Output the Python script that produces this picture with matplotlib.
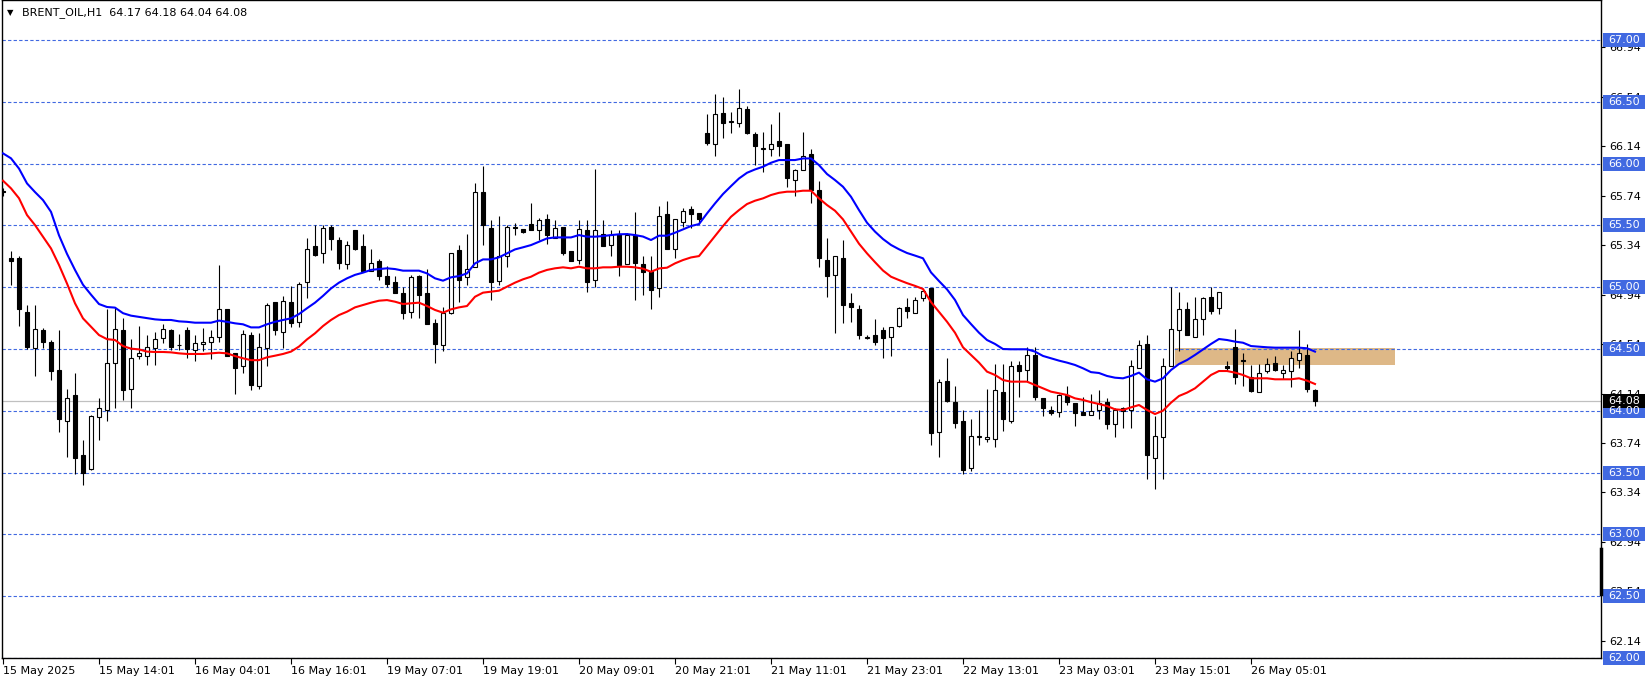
import matplotlib
matplotlib.use("Agg")
import matplotlib.pyplot as plt
import matplotlib.transforms as mtransforms
from matplotlib.patches import Rectangle

# H1 candles, BRENT_OIL
opens = [65.78, 65.24, 65.24, 64.80, 64.51, 64.65, 64.56, 64.33, 63.92, 64.13,
         63.64, 63.53, 63.95, 64.01, 64.39, 64.65, 64.18, 64.44, 64.44, 64.51,
         64.59, 64.65, 64.53, 64.65, 64.49, 64.54, 64.56, 64.60, 64.82, 64.47,
         64.36, 64.61, 64.20, 64.51, 64.88, 64.64, 64.88, 64.72, 65.04, 65.33,
         65.28, 65.49, 65.38, 65.19, 65.46, 65.33, 65.13, 65.21, 65.09, 65.04,
         64.95, 64.80, 65.09, 64.95, 64.71, 64.53, 64.79, 65.30, 65.08, 65.16,
         65.77, 65.48, 65.05, 65.25, 65.49, 65.47, 65.51, 65.46, 65.55, 65.40,
         65.49, 65.29, 65.22, 65.46, 65.06, 65.43, 65.34, 65.43, 65.19, 65.42,
         65.19, 65.13, 64.99, 65.59, 65.31, 65.53, 65.63, 65.60, 66.25, 66.16,
         66.41, 66.34, 66.33, 66.44, 66.24, 66.12, 66.12, 66.18, 66.16, 65.87,
         65.95, 66.08, 65.79, 65.22, 65.10, 65.24, 64.87, 64.82, 64.59, 64.61,
         64.65, 64.60, 64.69, 64.84, 64.79, 64.91, 64.99, 63.83, 64.24, 64.07,
         63.92, 63.54, 63.79, 63.77, 63.77, 64.15, 63.92, 64.37, 64.33, 64.45,
         64.10, 64.01, 63.99, 64.13, 64.06, 63.99, 63.97, 64.01, 64.07, 63.89,
         64.02, 64.01, 64.35, 64.54, 63.62, 63.79, 64.36, 64.65, 64.82, 64.60,
         64.74, 64.92, 64.83, 64.36, 64.52, 64.41, 64.27, 64.15, 64.32, 64.39,
         64.31, 64.32, 64.41, 64.45, 64.17]
highs = [65.80, 65.29, 65.25, 64.86, 64.86, 64.67, 64.57, 64.65, 64.18, 64.31,
         63.76, 63.97, 64.10, 64.82, 64.84, 64.75, 64.58, 64.69, 64.61, 64.64,
         64.70, 64.66, 64.62, 64.68, 64.61, 64.67, 64.65, 65.18, 64.82, 64.47,
         64.65, 64.64, 64.63, 64.87, 64.88, 64.93, 65.01, 65.04, 65.40, 65.50,
         65.50, 65.50, 65.41, 65.37, 65.46, 65.43, 65.31, 65.23, 65.17, 65.09,
         65.00, 65.10, 65.10, 65.15, 64.74, 64.84, 65.28, 65.34, 65.43, 65.84,
         65.98, 65.54, 65.58, 65.50, 65.52, 65.47, 65.68, 65.56, 65.59, 65.54,
         65.49, 65.29, 65.54, 65.54, 65.96, 65.54, 65.46, 65.46, 65.44, 65.61,
         65.25, 65.25, 65.66, 65.70, 65.55, 65.64, 65.66, 65.60, 66.40, 66.56,
         66.54, 66.42, 66.60, 66.47, 66.26, 66.26, 66.32, 66.42, 66.16, 65.96,
         66.26, 66.12, 65.86, 65.40, 65.25, 65.38, 64.95, 64.86, 64.61, 64.74,
         64.68, 64.68, 64.84, 64.91, 64.92, 64.98, 64.99, 64.26, 64.43, 64.20,
         64.01, 63.93, 64.01, 64.18, 64.38, 64.38, 64.40, 64.40, 64.52, 64.52,
         64.10, 64.04, 64.14, 64.20, 64.06, 64.11, 64.14, 64.17, 64.10, 64.02,
         64.03, 64.41, 64.57, 64.61, 63.96, 64.43, 65.00, 64.96, 64.88, 64.92,
         64.92, 65.00, 64.96, 64.40, 64.66, 64.47, 64.37, 64.38, 64.43, 64.44,
         64.37, 64.48, 64.65, 64.54, 64.18]
lows = [65.74, 65.02, 64.69, 64.50, 64.28, 64.51, 64.25, 63.83, 63.63, 63.49,
        63.40, 63.52, 63.76, 63.92, 64.02, 64.09, 64.02, 64.42, 64.37, 64.37,
        64.55, 64.49, 64.49, 64.43, 64.40, 64.48, 64.42, 64.56, 64.44, 64.14,
        64.31, 64.17, 64.18, 64.36, 64.61, 64.51, 64.68, 64.68, 64.91, 65.25,
        65.20, 65.30, 65.15, 65.15, 65.30, 65.13, 65.13, 65.06, 65.00, 64.95,
        64.74, 64.75, 64.75, 64.70, 64.39, 64.48, 64.78, 64.88, 65.02, 65.16,
        65.34, 64.90, 65.02, 65.16, 65.42, 65.44, 65.46, 65.38, 65.35, 65.40,
        65.26, 65.21, 65.19, 64.96, 65.00, 65.33, 65.25, 65.09, 65.19, 64.90,
        64.94, 64.82, 64.92, 65.31, 65.24, 65.49, 65.48, 65.51, 66.15, 66.06,
        66.21, 66.25, 66.30, 66.24, 65.99, 65.93, 66.06, 66.06, 65.81, 65.74,
        65.95, 65.68, 65.16, 64.92, 64.63, 64.71, 64.72, 64.58, 64.58, 64.53,
        64.43, 64.44, 64.68, 64.75, 64.79, 64.89, 63.72, 63.63, 64.07, 63.86,
        63.49, 63.51, 63.72, 63.75, 63.71, 63.84, 63.90, 64.11, 64.24, 64.09,
        63.96, 63.97, 63.95, 64.05, 63.88, 63.97, 63.97, 63.93, 63.85, 63.79,
        63.86, 63.86, 64.35, 63.45, 63.37, 63.45, 64.36, 64.48, 64.61, 64.60,
        64.61, 64.78, 64.78, 64.32, 64.22, 64.20, 64.15, 64.15, 64.31, 64.32,
        64.26, 64.19, 64.35, 64.15, 64.04]
closes = [65.77, 65.21, 64.82, 64.52, 64.66, 64.56, 64.32, 63.93, 64.10, 63.62,
          63.50, 63.96, 64.02, 64.39, 64.66, 64.17, 64.43, 64.47, 64.52, 64.58,
          64.66, 64.52, 64.53, 64.50, 64.55, 64.56, 64.60, 64.82, 64.44, 64.35,
          64.62, 64.21, 64.52, 64.86, 64.65, 64.89, 64.71, 65.03, 65.31, 65.26,
          65.48, 65.39, 65.20, 65.34, 65.31, 65.13, 65.20, 65.09, 65.03, 64.95,
          64.79, 65.08, 64.94, 64.70, 64.54, 64.79, 65.28, 65.06, 65.15, 65.77,
          65.50, 65.04, 65.25, 65.49, 65.48, 65.45, 65.46, 65.54, 65.42, 65.48,
          65.28, 65.21, 65.47, 65.04, 65.46, 65.33, 65.42, 65.18, 65.42, 65.20,
          65.12, 64.98, 65.58, 65.31, 65.55, 65.62, 65.59, 65.55, 66.17, 66.40,
          66.33, 66.34, 66.45, 66.25, 66.14, 66.12, 66.16, 66.14, 65.88, 65.95,
          66.06, 65.79, 65.24, 65.09, 65.25, 64.86, 64.84, 64.61, 64.59, 64.56,
          64.59, 64.68, 64.83, 64.81, 64.90, 64.97, 63.82, 64.23, 64.08, 63.90,
          63.52, 63.80, 63.79, 63.79, 64.17, 63.93, 64.36, 64.32, 64.45, 64.11,
          64.02, 63.98, 64.13, 64.07, 63.98, 63.97, 64.00, 64.06, 63.89, 64.01,
          64.00, 64.36, 64.53, 63.64, 63.80, 64.36, 64.66, 64.82, 64.61, 64.74,
          64.91, 64.81, 64.96, 64.35, 64.27, 64.40, 64.16, 64.31, 64.38, 64.33,
          64.33, 64.43, 64.47, 64.18, 64.08]

# moving averages
ma_blue = [66.083, 66.043, 65.960, 65.840, 65.770, 65.705, 65.610, 65.420, 65.270, 65.140,
           65.020, 64.940, 64.864, 64.840, 64.835, 64.790, 64.770, 64.760, 64.750, 64.740,
           64.735, 64.735, 64.724, 64.720, 64.713, 64.713, 64.713, 64.730, 64.720, 64.708,
           64.700, 64.675, 64.675, 64.700, 64.720, 64.735, 64.748, 64.783, 64.830, 64.875,
           64.930, 64.990, 65.037, 65.072, 65.100, 65.118, 65.140, 65.147, 65.153, 65.147,
           65.134, 65.134, 65.134, 65.112, 65.072, 65.053, 65.080, 65.090, 65.112, 65.193,
           65.225, 65.225, 65.242, 65.274, 65.306, 65.323, 65.341, 65.368, 65.395, 65.403,
           65.403, 65.403, 65.422, 65.409, 65.409, 65.414, 65.422, 65.428, 65.430, 65.422,
           65.410, 65.382, 65.417, 65.417, 65.441, 65.468, 65.495, 65.511, 65.597, 65.678,
           65.754, 65.818, 65.880, 65.926, 65.953, 65.975, 66.007, 66.029, 66.029, 66.029,
           66.042, 66.042, 65.988, 65.916, 65.867, 65.813, 65.732, 65.624, 65.522, 65.450,
           65.390, 65.342, 65.307, 65.277, 65.256, 65.234, 65.120, 65.050, 64.983, 64.897,
           64.775, 64.702, 64.632, 64.573, 64.541, 64.500, 64.498, 64.498, 64.498, 64.479,
           64.444, 64.425, 64.406, 64.390, 64.371, 64.344, 64.313, 64.306, 64.282, 64.268,
           64.263, 64.282, 64.309, 64.255, 64.236, 64.263, 64.330, 64.379, 64.411, 64.452,
           64.497, 64.541, 64.581, 64.573, 64.560, 64.551, 64.524, 64.519, 64.514, 64.511,
           64.511, 64.511, 64.511, 64.506, 64.479]
ma_red = [65.862, 65.800, 65.720, 65.584, 65.503, 65.409, 65.314, 65.180, 65.030, 64.870,
          64.748, 64.680, 64.613, 64.580, 64.573, 64.524, 64.503, 64.497, 64.479, 64.476,
          64.476, 64.473, 64.465, 64.460, 64.460, 64.460, 64.465, 64.470, 64.465, 64.443,
          64.425, 64.410, 64.410, 64.433, 64.446, 64.460, 64.479, 64.520, 64.578, 64.627,
          64.686, 64.735, 64.775, 64.802, 64.837, 64.856, 64.875, 64.891, 64.896, 64.883,
          64.864, 64.870, 64.875, 64.848, 64.816, 64.794, 64.821, 64.837, 64.848, 64.923,
          64.956, 64.964, 64.972, 65.004, 65.037, 65.064, 65.085, 65.118, 65.140, 65.153,
          65.161, 65.153, 65.166, 65.153, 65.153, 65.161, 65.161, 65.166, 65.166, 65.161,
          65.150, 65.125, 65.152, 65.158, 65.193, 65.220, 65.241, 65.252, 65.333, 65.414,
          65.495, 65.570, 65.624, 65.673, 65.700, 65.719, 65.746, 65.764, 65.773, 65.773,
          65.781, 65.781, 65.719, 65.665, 65.619, 65.549, 65.450, 65.352, 65.274, 65.203,
          65.135, 65.085, 65.058, 65.033, 65.011, 64.986, 64.880, 64.800, 64.721, 64.632,
          64.514, 64.452, 64.390, 64.317, 64.290, 64.249, 64.236, 64.236, 64.236, 64.209,
          64.182, 64.155, 64.142, 64.128, 64.101, 64.088, 64.070, 64.055, 64.039, 64.012,
          64.007, 64.028, 64.047, 64.007, 63.974, 64.001, 64.066, 64.120, 64.147, 64.182,
          64.236, 64.290, 64.322, 64.322, 64.309, 64.290, 64.263, 64.263, 64.263, 64.255,
          64.255, 64.255, 64.263, 64.244, 64.217]

time_labels = ['15 May 2025', '15 May 14:01', '16 May 04:01', '16 May 16:01',
               '19 May 07:01', '19 May 19:01', '20 May 09:01', '20 May 21:01',
               '21 May 11:01', '21 May 23:01', '22 May 13:01', '23 May 03:01',
               '23 May 15:01', '26 May 05:01']
level_lines = [62.00, 62.50, 63.00, 63.50, 64.00, 64.50, 65.00, 65.50, 66.00, 66.50, 67.00]
price_ticks = [62.14, 62.54, 62.94, 63.34, 63.74, 64.14, 64.54, 64.94, 65.34, 65.74, 66.14, 66.54, 66.94]
last_price = 64.08
zone_low, zone_high = 64.37, 64.505
zone_start, zone_end = 146.5, 174.0
spread_low, spread_high = 62.515, 62.88

LEVEL_BLUE = '#4169E1'
FONT = 'DejaVu Sans'
plt.rcParams['font.family'] = FONT

W, H = 1651, 682
fig = plt.figure(figsize=(W / 100, H / 100), dpi=100)
fig.patch.set_facecolor('white')
ax = fig.add_axes([2 / W, 24 / H, 1599 / W, 658 / H])
ax.set_facecolor('white')

n = len(closes)
xs = list(range(n))

ax.set_xlim(-0.125, 199.75)
ax.set_ylim(62.0, 67.324)

# support/resistance zone
ax.add_patch(Rectangle((zone_start, zone_low), zone_end - zone_start, zone_high - zone_low,
                       facecolor='#DEB887', edgecolor='none', zorder=0.5))

# horizontal levels
for lv in level_lines:
    ax.axhline(lv, color=LEVEL_BLUE, lw=0.8, dashes=(3, 2), zorder=1)
ax.axhline(last_price, color='#C0C0C0', lw=0.9, zorder=1)

# candles
ax.vlines(xs, lows, highs, color='black', lw=0.8, zorder=2)
for i in xs:
    o, c = opens[i], closes[i]
    bottom = min(o, c)
    height = max(abs(c - o), 0.004)
    face = 'white' if c >= o else 'black'
    ax.bar(i, height, bottom=bottom, width=0.5, color=face, edgecolor='black',
           linewidth=0.8, zorder=3)

# moving averages
ax.plot(xs, ma_blue, color='#0000FF', lw=1.5, zorder=4)
ax.plot(xs, ma_red, color='#FF0000', lw=1.5, zorder=4)

# axes styling
for s in ax.spines.values():
    s.set_color('black')
    s.set_linewidth(1.0)

ax.yaxis.tick_right()
ax.set_yticks(price_ticks)
ax.set_yticklabels([f'{p:.2f}' for p in price_ticks])
ax.tick_params(axis='y', direction='out', length=3, width=0.8, pad=3, labelsize=8,
               colors='black')

ax.set_xticks(list(range(0, n, 12)))
ax.set_xticklabels(time_labels)
ax.tick_params(axis='x', direction='out', length=4, width=0.8, pad=2, labelsize=8,
               colors='black')
for lab in ax.get_xticklabels():
    lab.set_ha('left')

# price labels on the right axis
blend = mtransforms.blended_transform_factory(ax.transAxes, ax.transData)
box_h = 14 / 123.6
for lv in level_lines:
    ax.add_patch(Rectangle((1.0013, lv - box_h / 2), 0.0262, box_h, transform=blend,
                           facecolor=LEVEL_BLUE, edgecolor='none', clip_on=False, zorder=6))
    ax.text(1.0144, lv, f'{lv:.2f}', transform=blend, color='white', fontsize=8,
            ha='center', va='center', clip_on=False, zorder=7)
ax.add_patch(Rectangle((1.0013, last_price - box_h / 2), 0.0262, box_h, transform=blend,
                       facecolor='black', edgecolor='none', clip_on=False, zorder=6))
ax.text(1.0144, last_price, f'{last_price:.2f}', transform=blend, color='white', fontsize=8,
        ha='center', va='center', clip_on=False, zorder=7)

# thick mark on the price scale
ax.plot([1.0, 1.0], [spread_low, spread_high], transform=blend, color='black', lw=2.5,
        clip_on=False, zorder=6)

# title
ax.text(0.0031, 0.981, '\u25bc', transform=ax.transAxes, fontsize=6, va='center', ha='left')
ax.text(0.0123, 0.981, 'BRENT_OIL,H1  64.17 64.18 64.04 64.08', transform=ax.transAxes,
        fontsize=8, va='center', ha='left')

fig.savefig('out.png', dpi=100)
